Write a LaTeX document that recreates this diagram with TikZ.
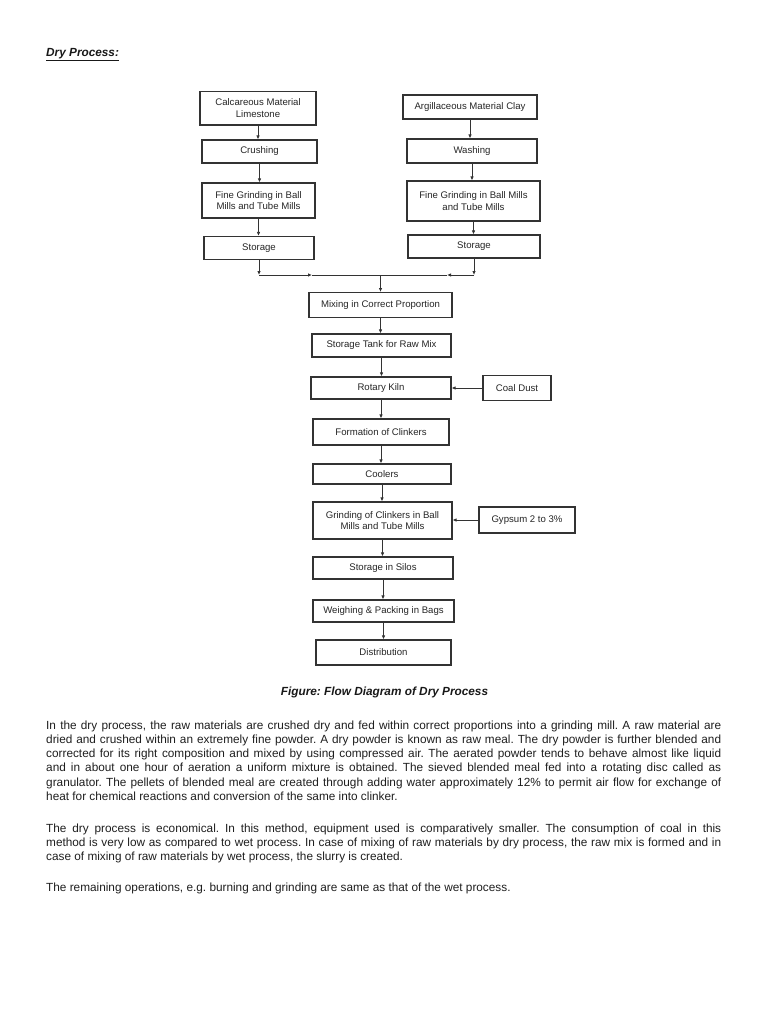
\documentclass[tikz,border=0pt]{standalone}
\usepackage{fontspec}
\setmainfont{Liberation Sans}
\usetikzlibrary{arrows.meta}
\frenchspacing
\newcommand\bx[6]{\node[box,minimum width=#4pt,minimum height=#5pt] (#1) at (#2,#3) {#6};}
\begin{document}
\begin{tikzpicture}[x=1pt,y=-1pt,
 box/.style={draw=black!80, line width=1.1pt, fill=white, inner sep=1pt, align=center,
   font=\fontsize{9.6}{11.5}\selectfont, text=black!85},
 arr/.style={draw=black!80, line width=0.9pt, -{Latex[length=4pt,width=3.5pt]}},
 ln/.style={draw=black!80, line width=0.9pt},
 para/.style={anchor=base west, inner sep=0pt, font=\fontsize{11.8}{14}\selectfont, text=black!88},
 ttl/.style={inner sep=0pt, font=\bfseries\itshape\fontsize{11.8}{14}\selectfont, text=black!90}]
\useasboundingbox (0,0) rectangle (768,1024);
\fill[white] (0,0) rectangle (768,1024);

% title
\node[ttl, anchor=base west] (title) at (46,57) {Dry Process:};
\draw[line width=0.8pt, black!90] ([yshift=-3pt]title.base west) -- ([yshift=-3pt]title.base east);

% left column
\bx{calc}{258}{108.3}{116}{33.5}{Calcareous Material\\Limestone}
\bx{crush}{259.5}{151.5}{115}{23}{Crushing}
\bx{grindL}{258.5}{200.5}{113}{35}{Fine Grinding in Ball\\Mills and Tube Mills}
\bx{storL}{259}{248}{110}{23}{Storage}
% right column
\bx{argil}{470}{107}{134}{24}{Argillaceous Material Clay}
\bx{wash}{472}{151}{130}{24}{Washing}
\bx{grindR}{473.5}{201}{133}{40}{Fine Grinding in Ball Mills\\and Tube Mills}
\bx{storR}{474}{246.5}{132}{23}{Storage}
% central chain
\bx{mix}{380.5}{304.8}{143}{24.5}{Mixing in Correct Proportion}
\bx{tank}{381.5}{345.5}{139}{23}{Storage Tank for Raw Mix}
\bx{kiln}{381}{388}{140}{22}{Rotary Kiln}
\bx{coal}{517}{388}{68}{24.5}{Coal Dust}
\bx{form}{381}{432}{136}{26}{Formation of Clinkers}
\bx{cool}{382}{474}{138}{20}{Coolers}
\bx{grindC}{382.5}{520.5}{139}{37}{Grinding of Clinkers in Ball\\Mills and Tube Mills}
\bx{gyp}{527}{520}{96}{26}{Gypsum 2 to 3\%}
\bx{silo}{383}{568}{140}{22}{Storage in Silos}
\bx{weigh}{383.5}{611}{141}{22}{Weighing \& Packing in Bags}
\bx{dist}{383.5}{652.5}{135}{25}{Distribution}

% connectors
\draw[arr] (calc.south) -- (calc.south |- crush.north);
\draw[arr] (crush.south) -- (crush.south |- grindL.north);
\draw[arr] (grindL.south) -- (grindL.south |- storL.north);
\draw[arr] (argil.south) -- (argil.south |- wash.north);
\draw[arr] (wash.south) -- (wash.south |- grindR.north);
\draw[arr] (grindR.south) -- (grindR.south |- storR.north);

\coordinate (jL) at (259,275);
\coordinate (jR) at (474,275);
\coordinate (jM) at (380.5,275);
\coordinate (aL) at (312,275);
\coordinate (aR) at (447,275);
\draw[arr] (storL.south) -- (jL);
\draw[arr] (storR.south) -- (jR);
\draw[arr] (jL) -- (aL);
\draw[ln] (aL) -- (jM);
\draw[arr] (jR) -- (aR);
\draw[ln] (aR) -- (jM);
\draw[arr] (jM) -- (jM |- mix.north);

\draw[arr] (mix.south) -- (mix.south |- tank.north);
\draw[arr] (tank.south) -- (tank.south |- kiln.north);
\draw[arr] (kiln.south) -- (kiln.south |- form.north);
\draw[arr] (form.south) -- (form.south |- cool.north);
\draw[arr] (cool.south) -- (cool.south |- grindC.north);
\draw[arr] (grindC.south) -- (grindC.south |- silo.north);
\draw[arr] (silo.south) -- (silo.south |- weigh.north);
\draw[arr] (weigh.south) -- (weigh.south |- dist.north);
\draw[arr] (coal.west) -- (coal.west -| kiln.east);
\draw[arr] (gyp.west) -- (gyp.west -| grindC.east);

% caption
\node[ttl, anchor=base] (cap) at (384.5,695) {Figure: Flow Diagram of Dry Process};

% paragraphs
\node[para] (p1a) at (46,729) {\makebox[675pt][s]{In the dry process, the raw materials are crushed dry and fed within correct proportions into a grinding mill. A raw material are}};
\node[para] (p1b) at (46,743.3) {\makebox[675pt][s]{dried and crushed within an extremely fine powder. A dry powder is known as raw meal. The dry powder is further blended and}};
\node[para] (p1c) at (46,757.5) {\makebox[675pt][s]{corrected for its right composition and mixed by using compressed air. The aerated powder tends to behave almost like liquid}};
\node[para] (p1d) at (46,771.8) {\makebox[675pt][s]{and in about one hour of aeration a uniform mixture is obtained. The sieved blended meal fed into a rotating disc called as}};
\node[para] (p1e) at (46,786) {\makebox[675pt][s]{granulator. The pellets of blended meal are created through adding water approximately 12\% to permit air flow for exchange of}};
\node[para] (p1f) at (46,800.3) {heat for chemical reactions and conversion of the same into clinker.};

\node[para] (p2a) at (46,832.3) {\makebox[675pt][s]{The dry process is economical. In this method, equipment used is comparatively smaller. The consumption of coal in this}};
\node[para] (p2b) at (46,846.6) {\makebox[675pt][s]{method is very low as compared to wet process. In case of mixing of raw materials by dry process, the raw mix is formed and in}};
\node[para] (p2c) at (46,860.8) {case of mixing of raw materials by wet process, the slurry is created.};

\node[para] (p3) at (46,891) {The remaining operations, e.g. burning and grinding are same as that of the wet process.};
\end{tikzpicture}
\end{document}
